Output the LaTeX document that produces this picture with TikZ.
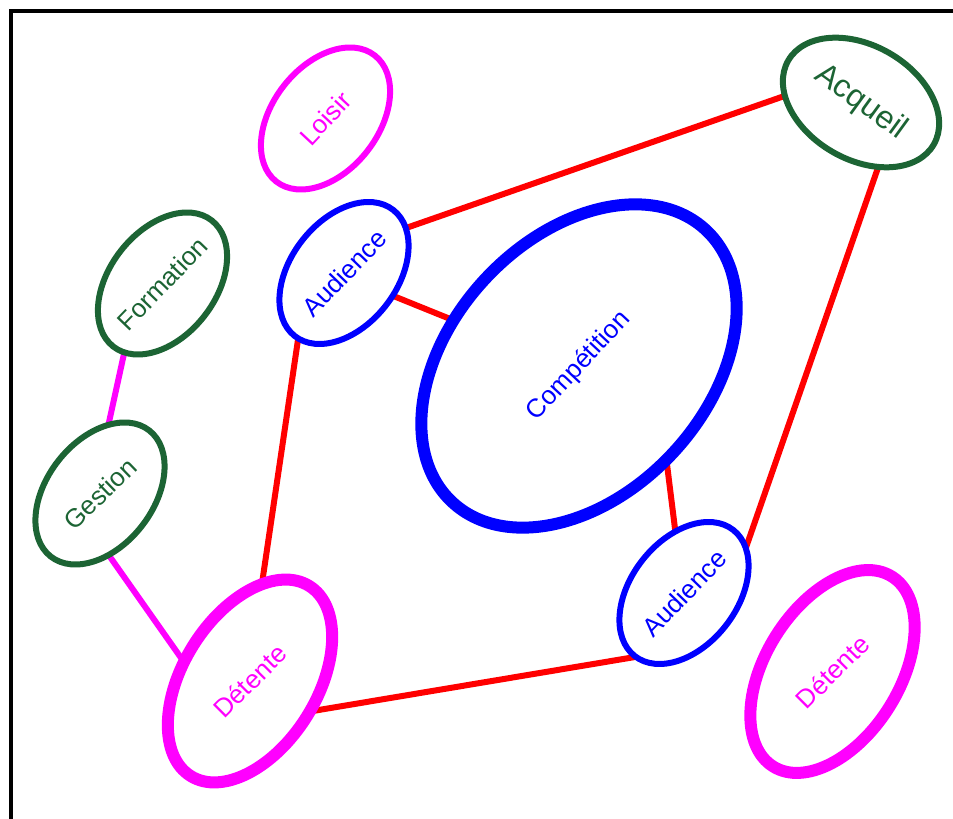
\documentclass[tikz,border=0pt]{standalone}
\usepackage{fontspec}
\newfontfamily\lblfont{Liberation Sans}
\usetikzlibrary{shapes.geometric}
\definecolor{dgreen}{RGB}{28,100,52}
\definecolor{mag}{RGB}{255,0,255}
\definecolor{blu}{RGB}{0,0,255}
\definecolor{rd}{RGB}{255,0,0}
\tikzset{
  ell/.style={ellipse, inner sep=0pt, outer sep=0pt},
  smallell/.style={ell, minimum width=160pt, minimum height=106pt, rotate=52},
  bigell/.style={ell, minimum width=224pt, minimum height=134pt, rotate=58},
  lbl/.style={font=\lblfont\fontsize{26}{30}\selectfont, inner sep=0pt},
  redline/.style={draw=rd, line width=6pt},
  magline/.style={draw=mag, line width=6pt},
}
\begin{document}
\begin{tikzpicture}[x=1pt,y=1pt]
\useasboundingbox (0,0) rectangle (953,819);
\fill[white] (0,0) rectangle (953,819);
\draw[line width=4pt] (11,-5) -- (11,808) -- (960,808);
% ellipse nodes
\node[smallell] (loisir) at (325.5,700.5) {};
\node[smallell] (formation) at (162.5,535.5) {};
\node[smallell] (gestion) at (100,325.5) {};
\node[smallell] (aud1) at (344,546) {};
\node[smallell] (aud2) at (684,226) {};
\node[ell, minimum width=168pt, minimum height=114pt, rotate=-30] (acq) at (861,716.5) {};
\node[ell, minimum width=372pt, minimum height=256pt, rotate=47] (comp) at (579,453) {};
\node[bigell] (det1) at (250,138) {};
\node[bigell] (det2) at (832.5,147.5) {};
% connectors
\draw[redline] (aud1.-16.8) -- (acq.205.9);
\draw[redline] (aud1.-77.6) -- (comp.113.9);
\draw[redline] (acq.-45.6) -- (aud2.-16.9);
\draw[redline] (comp.-94.8) -- (aud2.46.8);
\draw[redline] (aud1.183.5) -- (det1.25.7);
\draw[redline] (det1.-85.4) -- (aud2.181.4);
\draw[magline] (formation.189.3) -- (gestion.31);
\draw[magline] (gestion.-134.9) -- (det1.106.2);
% ellipse outlines
\draw[mag, line width=6pt] (loisir.center) ellipse [x radius=80pt, y radius=53pt, rotate=52];
\draw[dgreen, line width=6pt] (formation.center) ellipse [x radius=80pt, y radius=53pt, rotate=52];
\draw[dgreen, line width=6pt] (gestion.center) ellipse [x radius=80pt, y radius=53pt, rotate=52];
\draw[blu, line width=6pt] (aud1.center) ellipse [x radius=80pt, y radius=53pt, rotate=52];
\draw[blu, line width=6pt] (aud2.center) ellipse [x radius=80pt, y radius=53pt, rotate=52];
\draw[dgreen, line width=6pt] (acq.center) ellipse [x radius=84pt, y radius=57pt, rotate=-30];
\draw[blu, line width=12pt] (comp.center) ellipse [x radius=186pt, y radius=128pt, rotate=47];
\draw[mag, line width=12pt] (det1.center) ellipse [x radius=112pt, y radius=67pt, rotate=58];
\draw[mag, line width=12pt] (det2.center) ellipse [x radius=112pt, y radius=67pt, rotate=58];
% labels
\node[lbl, text=mag, rotate=47] (tloisir) at (loisir.center) {Loisir};
\node[lbl, text=dgreen, rotate=46] (tformation) at (formation.center) {Formation};
\node[lbl, text=dgreen, rotate=44] (tgestion) at (gestion.center) {Gestion};
\node[lbl, text=blu, rotate=46] (taud1) at (aud1.center) {Audience};
\node[lbl, text=blu, rotate=46] (taud2) at (aud2.center) {Audience};
\node[lbl, text=dgreen, rotate=-36, font=\lblfont\fontsize{32}{36}\selectfont] (tacq) at (acq.center) {Acqueil};
\node[lbl, text=blu, rotate=47] (tcomp) at (comp.center) {Compétition};
\node[lbl, text=mag, rotate=45] (tdet1) at (det1.center) {Détente};
\node[lbl, text=mag, rotate=45] (tdet2) at (det2.center) {Détente};
\end{tikzpicture}
\end{document}
